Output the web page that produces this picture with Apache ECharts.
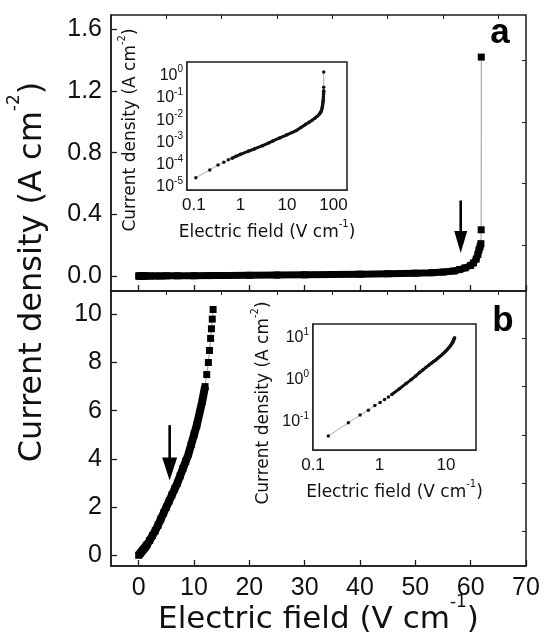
<!DOCTYPE html>
<html><head><meta charset="utf-8">
<script src="https://cdn.jsdelivr.net/npm/echarts@6/dist/echarts.min.js"></script>
<style>html,body{margin:0;padding:0;background:#fff}#c{width:544px;height:643px}</style>
</head><body><div id="c"></div>
<script>
// ---- Panel a data (electric field V/cm, current density A/cm^2) ----
const fieldA = [0, 0.11, 0.22, 0.33, 0.44, 0.55, 0.66, 0.8, 1, 1.5, 2, 3, 4, 5, 7, 10, 13, 16, 20, 25, 30, 35, 40, 45, 50, 53, 55, 57, 58, 59, 60, 60.5, 61, 61.3, 61.5, 61.7, 61.85, 61.9, 61.92];
const currentA = [0, 2.6e-5, 5.9e-5, 9.8e-5, 1.3e-4, 1.66e-4, 1.95e-4, 2.4e-4, 2.95e-4, 4.1e-4, 5.1e-4, 7.2e-4, 9.4e-4, 1.17e-3, 1.6e-3, 2.2e-3, 2.8e-3, 3.4e-3, 4.7e-3, 6.3e-3, 8.1e-3, 1.0e-2, 1.23e-2, 1.5e-2, 1.86e-2, 2.2e-2, 2.6e-2, 3.3e-2, 4.2e-2, 5.3e-2, 6.9e-2, 8.5e-2, 0.11, 0.14, 0.17, 0.19, 0.21, 0.30, 1.42];
// ---- Panel b data ----
const fieldB = [0, 0.17, 0.34, 0.51, 0.68, 0.85, 1.02, 1.19, 1.36, 1.53, 2, 2.5, 3, 3.5, 4, 4.5, 5, 5.5, 6, 6.5, 7, 7.5, 8, 8.5, 9, 9.5, 10, 10.5, 11, 11.5, 12, 12.3, 12.6, 12.8, 13.0, 13.15, 13.3, 13.45];
const currentB = [0, 0.046, 0.095, 0.145, 0.19, 0.245, 0.29, 0.34, 0.39, 0.45, 0.62, 0.82, 1.02, 1.25, 1.5, 1.75, 2.0, 2.25, 2.5, 2.75, 3.0, 3.3, 3.6, 3.9, 4.2, 4.6, 5.0, 5.4, 5.9, 6.4, 7.0, 7.5, 8.0, 8.5, 9.0, 9.4, 9.8, 10.2];
// ---- Ticks ----
const xTicks = [0, 10, 20, 30, 40, 50, 60, 70];
const xMinorTicks = [5, 15, 25, 35, 45, 55, 65];
const yTicksA = [0, 0.4, 0.8, 1.2, 1.6];
const yMinorTicksA = [0.2, 0.6, 1.0, 1.4];
const yTicksB = [0, 2, 4, 6, 8, 10];
const yMinorTicksB = [1, 3, 5, 7, 9];
const insetAXTicks = [0.1, 1, 10, 100];
const insetAYTicks = [1e-5, 1e-4, 1e-3, 1e-2, 1e-1, 1];
const insetBXTicks = [0.1, 1, 10];
const insetBYTicks = [0.1, 1, 10];
// ---- Arrow annotations: [x, yStart, yTip] ----
const arrowA = [58.2, 0.49, 0.15];
const arrowB = [5.6, 5.4, 3.1];

const AX = '#1c1c1c';
const TXT = '#111';
const NUM_FONT = '"Liberation Sans", Arial, sans-serif';
const TITLE_FONT = '"DejaVu Sans", sans-serif';

const pairs = (xs, ys) => xs.map((x, i) => [x, ys[i]]);
const dataA = pairs(fieldA, currentA);
const dataB = pairs(fieldB, currentB);
const bandA = dataA.filter(d => d[0] <= 61.85);
const bandB = dataB.filter(d => d[1] <= 7.0);
const logA = dataA.filter(d => d[0] > 0);
const logAThick = logA.filter(d => d[0] >= 0.66 && d[0] <= 61.85);
const logB = dataB.filter(d => d[0] > 0);
const logBThick = logB.filter(d => d[0] >= 1.53);

function logMinor(lo, hi) {
  const out = [];
  for (let e = -6; e <= 3; e++) for (let m = 2; m <= 9; m++) {
    const v = +(m * Math.pow(10, e)).toPrecision(3);
    if (v > lo && v < hi) out.push(v);
  }
  return out;
}

const lineStyleAx = {color: AX, width: 1.5};
function mainAxis(grid, min, max, ticks, labels, extra) {
  return Object.assign({
    gridIndex: grid, type: 'value', min: min, max: max,
    axisLine: {show: true, onZero: false, lineStyle: lineStyleAx},
    axisTick: {show: true, inside: true, length: 6, customValues: ticks, lineStyle: {color: AX, width: 1.3}},
    axisLabel: labels ? Object.assign({show: true, customValues: ticks, fontSize: 25, fontFamily: NUM_FONT, color: TXT}, labels) : {show: false},
    splitLine: {show: false}
  }, extra || {});
}
function minorAxis(grid, type, min, max, ticks, len) {
  return {
    gridIndex: grid, type: type, min: min, max: max,
    axisLine: {show: false, onZero: false},
    axisTick: {show: true, inside: true, length: len, customValues: ticks, lineStyle: {color: AX, width: 1}},
    axisLabel: {show: false}, splitLine: {show: false}
  };
}
function logAxis(grid, min, max, ticks, labels, extra) {
  return Object.assign({
    gridIndex: grid, type: 'log', logBase: 10, min: min, max: max,
    axisLine: {show: true, onZero: false, lineStyle: lineStyleAx},
    axisTick: {show: true, inside: true, length: 4, customValues: ticks, lineStyle: {color: AX, width: 1.2}},
    axisLabel: Object.assign({show: true, customValues: ticks, fontFamily: NUM_FONT, color: TXT}, labels),
    splitLine: {show: false}
  }, extra || {});
}
const supRich = (size) => ({sup: {fontSize: size, lineHeight: size, fontFamily: NUM_FONT, color: TXT, verticalAlign: 'top'}});
const titleSupRich = (size) => ({sup: {fontSize: size, lineHeight: size, fontFamily: TITLE_FONT, color: TXT, verticalAlign: 'top'}});
const expLabel = v => '10{sup|' + Math.round(Math.log10(v)) + '}';
const plainLog = v => (v >= 1 ? String(Math.round(v)) : String(+v.toPrecision(2)));

const A_MIN = -0.097, A_MAX = 1.693, B_MIN = -0.444, B_MAX = 10.967;
const IA_X = [0.071, 196], IA_Y = [7.4e-6, 4.03], IB_X = [0.1, 28.2], IB_Y = [0.0213, 21.7];

const gridStyle = {show: true, borderColor: AX, borderWidth: 1.5, backgroundColor: 'transparent', containLabel: false, outerBoundsMode: 'none'};

const option = {
  animation: false,
  backgroundColor: '#fff',
  grid: [
    Object.assign({left: 111, top: 15, width: 415, height: 276}, gridStyle),
    Object.assign({left: 111, top: 291, width: 415, height: 275}, gridStyle),
    Object.assign({left: 187, top: 62, width: 160, height: 128}, gridStyle, {backgroundColor: '#fff', z: 5}),
    Object.assign({left: 313, top: 324, width: 163, height: 126}, gridStyle, {backgroundColor: '#fff', z: 5})
  ],
  xAxis: [
    mainAxis(0, -5, 70, xTicks, null),
    mainAxis(1, -5, 70, xTicks, {margin: 10}, {
      name: 'Electric field (V cm{sup|-1})', nameLocation: 'middle', nameGap: 28, nameMoveOverlap: false,
      nameTextStyle: {fontSize: 31, lineHeight: 52, fontFamily: TITLE_FONT, color: TXT, rich: titleSupRich(17)}
    }),
    minorAxis(0, 'value', -5, 70, xMinorTicks, 4),
    minorAxis(1, 'value', -5, 70, xMinorTicks, 4),
    logAxis(2, IA_X[0], IA_X[1], insetAXTicks, {fontSize: 17, margin: 7, formatter: plainLog}, {
      name: 'Electric field (V cm{sup|-1})', nameLocation: 'middle', nameGap: 29, nameMoveOverlap: false,
      nameTextStyle: {fontSize: 17, lineHeight: 28, fontFamily: TITLE_FONT, color: TXT, rich: titleSupRich(10)}
    }),
    minorAxis(2, 'log', IA_X[0], IA_X[1], logMinor(IA_X[0], IA_X[1]), 2.5),
    logAxis(3, IB_X[0], IB_X[1], insetBXTicks, {fontSize: 17, margin: 7, formatter: plainLog}, {
      name: 'Electric field (V cm{sup|-1})', nameLocation: 'middle', nameGap: 29, nameMoveOverlap: false,
      nameTextStyle: {fontSize: 17, lineHeight: 28, fontFamily: TITLE_FONT, color: TXT, rich: titleSupRich(10)}
    }),
    minorAxis(3, 'log', IB_X[0], IB_X[1], logMinor(IB_X[0], IB_X[1]), 2.5)
  ],
  yAxis: [
    mainAxis(0, A_MIN, A_MAX, yTicksA, {margin: 9, formatter: v => v.toFixed(1)}),
    mainAxis(1, B_MIN, B_MAX, yTicksB, {margin: 9, formatter: v => String(v)}),
    minorAxis(0, 'value', A_MIN, A_MAX, yMinorTicksA, 4),
    minorAxis(1, 'value', B_MIN, B_MAX, yMinorTicksB, 4),
    logAxis(2, IA_Y[0], IA_Y[1], insetAYTicks, {fontSize: 16, lineHeight: 22, margin: 4, formatter: expLabel, rich: supRich(10)}),
    minorAxis(2, 'log', IA_Y[0], IA_Y[1], logMinor(IA_Y[0], IA_Y[1]), 2.5),
    logAxis(3, IB_Y[0], IB_Y[1], insetBYTicks, {fontSize: 16, lineHeight: 22, margin: 4, formatter: expLabel, rich: supRich(10)}),
    minorAxis(3, 'log', IB_Y[0], IB_Y[1], logMinor(IB_Y[0], IB_Y[1]), 2.5)
  ],
  series: [
    {type: 'line', xAxisIndex: 0, yAxisIndex: 0, data: dataA, showAllSymbol: true, symbol: 'rect', symbolSize: 7,
     itemStyle: {color: '#000'}, lineStyle: {color: '#9a9a9a', width: 1}, z: 3},
    {type: 'line', xAxisIndex: 0, yAxisIndex: 0, data: bandA, symbol: 'none',
     lineStyle: {color: '#000', width: 7, join: 'round'}, z: 4},
    {type: 'line', xAxisIndex: 1, yAxisIndex: 1, data: dataB, showAllSymbol: true, symbol: 'rect', symbolSize: 7,
     itemStyle: {color: '#000'}, lineStyle: {color: '#9a9a9a', width: 1}, z: 3},
    {type: 'line', xAxisIndex: 1, yAxisIndex: 1, data: bandB, symbol: 'none',
     lineStyle: {color: '#000', width: 8, join: 'round'}, z: 4},
    {type: 'line', xAxisIndex: 4, yAxisIndex: 4, data: logA, showAllSymbol: true, symbol: 'circle', symbolSize: 3.5,
     itemStyle: {color: '#111'}, lineStyle: {color: '#aaa', width: 1}, z: 6},
    {type: 'line', xAxisIndex: 4, yAxisIndex: 4, data: logAThick, symbol: 'none',
     lineStyle: {color: '#111', width: 3}, z: 7},
    {type: 'line', xAxisIndex: 6, yAxisIndex: 6, data: logB, showAllSymbol: true, symbol: 'circle', symbolSize: 3.5,
     itemStyle: {color: '#111'}, lineStyle: {color: '#aaa', width: 1}, z: 6},
    {type: 'line', xAxisIndex: 6, yAxisIndex: 6, data: logBThick, symbol: 'none',
     lineStyle: {color: '#111', width: 3}, z: 7}
  ]
};

const chart = echarts.init(document.getElementById('c'), null, {renderer: 'canvas'});
chart.setOption(option);

function arrowGraphics(xi, yi, arr, headW, headL) {
  const p0 = chart.convertToPixel({xAxisIndex: xi, yAxisIndex: yi}, [arr[0], arr[1]]);
  const p1 = chart.convertToPixel({xAxisIndex: xi, yAxisIndex: yi}, [arr[0], arr[2]]);
  const x = p0[0];
  return [
    {type: 'line', z: 20, shape: {x1: x, y1: p0[1], x2: x, y2: p1[1] - headL + 2}, style: {stroke: '#000', lineWidth: 2.6}},
    {type: 'polygon', z: 20, shape: {points: [[x - headW / 2, p1[1] - headL], [x + headW / 2, p1[1] - headL], [x, p1[1]]]}, style: {fill: '#000'}}
  ];
}

function vTitle(text, cx, cy, size, supSize, lh) {
  return {type: 'text', z: 20, rotation: Math.PI / 2, originX: cx, originY: cy,
    style: {text: text, x: cx, y: cy, align: 'center', verticalAlign: 'middle', lineHeight: lh,
      fontSize: size, fontFamily: TITLE_FONT, fill: TXT, rich: titleSupRich(supSize)}};
}

const graphics = [].concat(
  arrowGraphics(0, 0, arrowA, 13, 22),
  arrowGraphics(1, 1, arrowB, 15, 23),
  [
    vTitle('Current density (A cm{sup|-2})', 33, 272, 32, 17, 53),
    vTitle('Current density (A cm{sup|-2})', 131, 130, 17, 10, 28),
    vTitle('Current density (A cm{sup|-2})', 264, 403, 17, 10, 28),
    {type: 'text', z: 20, style: {text: 'a', x: 500, y: 33, align: 'center', verticalAlign: 'middle',
      fontSize: 35, fontWeight: 'bold', fontFamily: NUM_FONT, fill: '#000'}},
    {type: 'text', z: 20, style: {text: 'b', x: 503, y: 321, align: 'center', verticalAlign: 'middle',
      fontSize: 35, fontWeight: 'bold', fontFamily: NUM_FONT, fill: '#000'}}
  ]
);
chart.setOption({graphic: graphics});
</script>
</body></html>
